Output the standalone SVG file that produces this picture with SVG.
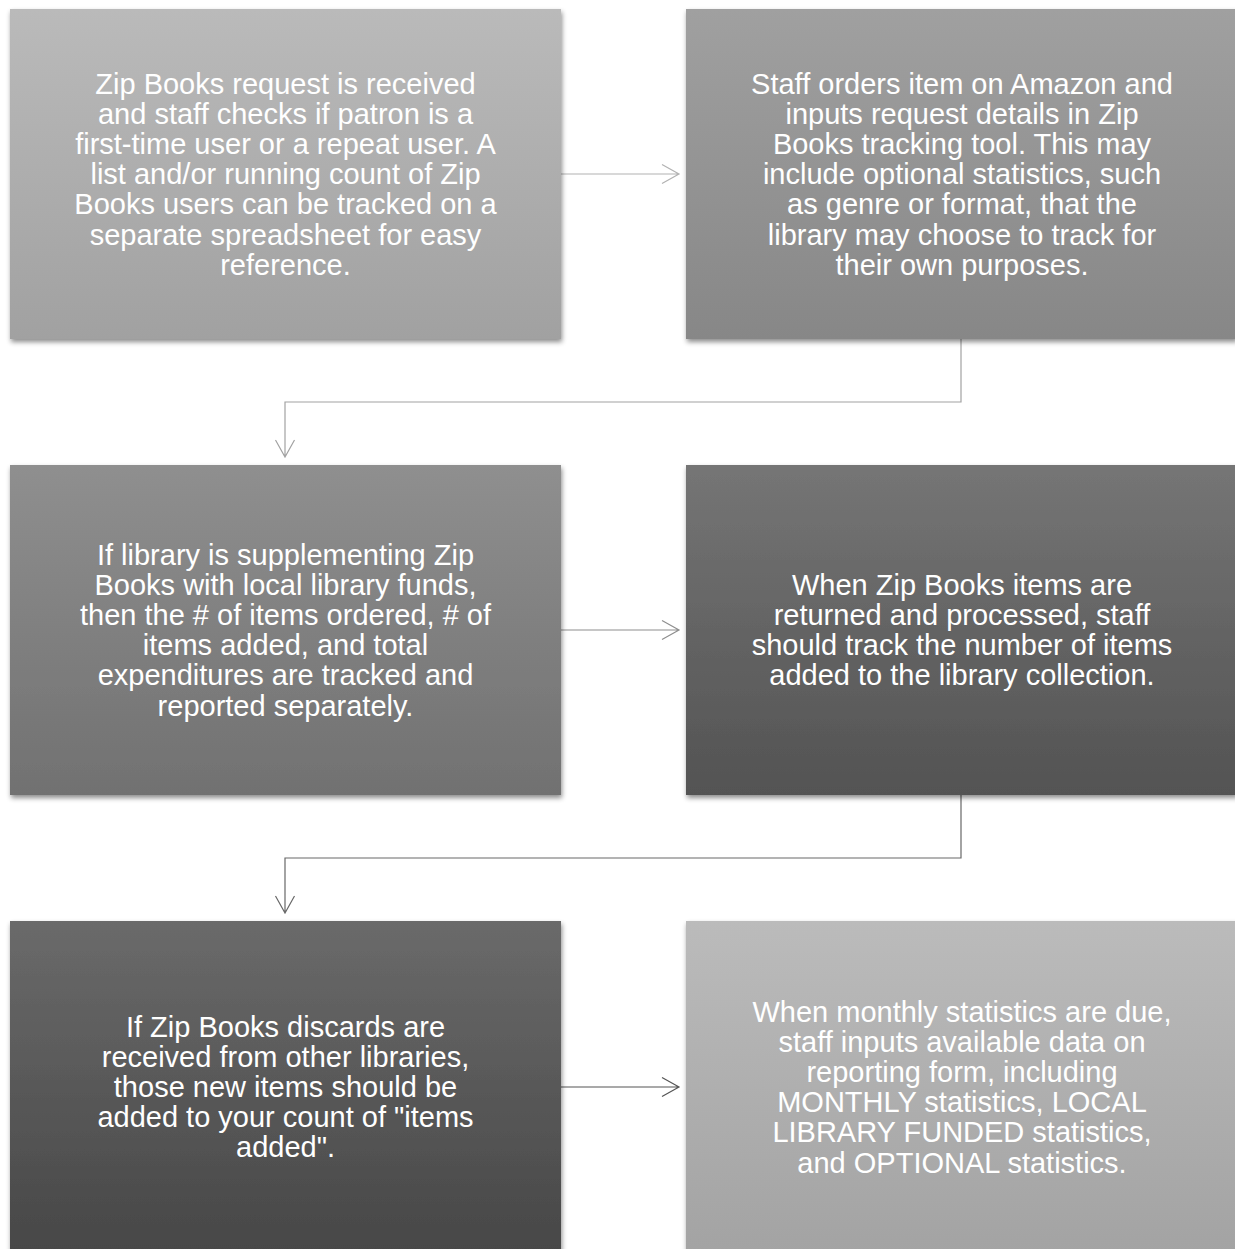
<svg xmlns="http://www.w3.org/2000/svg" width="1235" height="1249" viewBox="0 0 1235 1249">
<style>
.t{font-family:"Liberation Sans",Arial,sans-serif;font-size:29px;fill:#ffffff;text-anchor:middle}
.c{fill:none;stroke-width:1.2}
</style>
<defs>
<filter id="sh" x="-5%" y="-5%" width="110%" height="115%">
<feDropShadow dx="1" dy="3" stdDeviation="2.5" flood-color="#000" flood-opacity="0.45"/>
</filter>
<linearGradient id="g1" x1="0" y1="0" x2="0" y2="1"><stop offset="0" stop-color="#bababa"/><stop offset="1" stop-color="#a1a1a1"/></linearGradient>
<linearGradient id="g2" x1="0" y1="0" x2="0" y2="1"><stop offset="0" stop-color="#a0a0a0"/><stop offset="1" stop-color="#878787"/></linearGradient>
<linearGradient id="g3" x1="0" y1="0" x2="0" y2="1"><stop offset="0" stop-color="#8f8f8f"/><stop offset="1" stop-color="#717171"/></linearGradient>
<linearGradient id="g4" x1="0" y1="0" x2="0" y2="1"><stop offset="0" stop-color="#757575"/><stop offset="1" stop-color="#535353"/></linearGradient>
<linearGradient id="g5" x1="0" y1="0" x2="0" y2="1"><stop offset="0" stop-color="#6a6a6a"/><stop offset="1" stop-color="#474747"/></linearGradient>
<linearGradient id="g6" x1="0" y1="0" x2="0" y2="1"><stop offset="0" stop-color="#bbbbbb"/><stop offset="1" stop-color="#a3a3a3"/></linearGradient>
</defs>
<rect width="1235" height="1249" fill="#ffffff"/>

<g id="connectors">
<path class="c" stroke="#b2b2b2" d="M561,174 H679 M662,164.5 L679,174 L662,183.5"/>
<path class="c" stroke="#a2a2a2" d="M961,339 V402 H285 V457 M275.5,440 L285,457 L294.5,440"/>
<path class="c" stroke="#8e8e8e" d="M561,630 H679 M662,620.5 L679,630 L662,639.5"/>
<path class="c" stroke="#686868" d="M961,795 V858 H285 V913 M275.5,896 L285,913 L294.5,896"/>
<path class="c" stroke="#555555" d="M561,1087 H679 M662,1077.5 L679,1087 L662,1096.5"/>
</g>

<g id="node1">
<rect x="10" y="9" width="551" height="330" fill="url(#g1)" filter="url(#sh)"/>
<text class="t"><tspan x="285.5" y="93.5">Zip Books request is received</tspan><tspan x="285.5" y="123.7">and staff checks if patron is a</tspan><tspan x="285.5" y="153.9">first-time user or a repeat user. A</tspan><tspan x="285.5" y="184.1">list and/or running count of Zip</tspan><tspan x="285.5" y="214.3">Books users can be tracked on a</tspan><tspan x="285.5" y="244.5">separate spreadsheet for easy</tspan><tspan x="285.5" y="274.7">reference.</tspan></text>
</g>

<g id="node2">
<rect x="686" y="9" width="551" height="330" fill="url(#g2)" filter="url(#sh)"/>
<text class="t"><tspan x="962" y="93.5">Staff orders item on Amazon and</tspan><tspan x="962" y="123.7">inputs request details in Zip</tspan><tspan x="962" y="153.9">Books tracking tool. This may</tspan><tspan x="962" y="184.1">include optional statistics, such</tspan><tspan x="962" y="214.3">as genre or format, that the</tspan><tspan x="962" y="244.5">library may choose to track for</tspan><tspan x="962" y="274.7">their own purposes.</tspan></text>
</g>

<g id="node3">
<rect x="10" y="465" width="551" height="330" fill="url(#g3)" filter="url(#sh)"/>
<text class="t"><tspan x="285.5" y="564.5">If library is supplementing Zip</tspan><tspan x="285.5" y="594.7">Books with local library funds,</tspan><tspan x="285.5" y="624.9">then the # of items ordered, # of</tspan><tspan x="285.5" y="655.1">items added, and total</tspan><tspan x="285.5" y="685.3">expenditures are tracked and</tspan><tspan x="285.5" y="715.5">reported separately.</tspan></text>
</g>

<g id="node4">
<rect x="686" y="465" width="551" height="330" fill="url(#g4)" filter="url(#sh)"/>
<text class="t"><tspan x="962" y="594.7">When Zip Books items are</tspan><tspan x="962" y="624.9">returned and processed, staff</tspan><tspan x="962" y="655.1">should track the number of items</tspan><tspan x="962" y="685.3">added to the library collection.</tspan></text>
</g>

<g id="node5">
<rect x="10" y="921" width="551" height="332" fill="url(#g5)" filter="url(#sh)"/>
<text class="t"><tspan x="285.5" y="1036.6">If Zip Books discards are</tspan><tspan x="285.5" y="1066.8">received from other libraries,</tspan><tspan x="285.5" y="1097">those new items should be</tspan><tspan x="285.5" y="1127.2">added to your count of "items</tspan><tspan x="285.5" y="1157.4">added".</tspan></text>
</g>

<g id="node6">
<rect x="686" y="921" width="551" height="332" fill="url(#g6)" filter="url(#sh)"/>
<text class="t"><tspan x="962" y="1021.5">When monthly statistics are due,</tspan><tspan x="962" y="1051.7">staff inputs available data on</tspan><tspan x="962" y="1081.9">reporting form, including</tspan><tspan x="962" y="1112.1">MONTHLY statistics, LOCAL</tspan><tspan x="962" y="1142.3">LIBRARY FUNDED statistics,</tspan><tspan x="962" y="1172.5">and OPTIONAL statistics.</tspan></text>
</g>
</svg>
